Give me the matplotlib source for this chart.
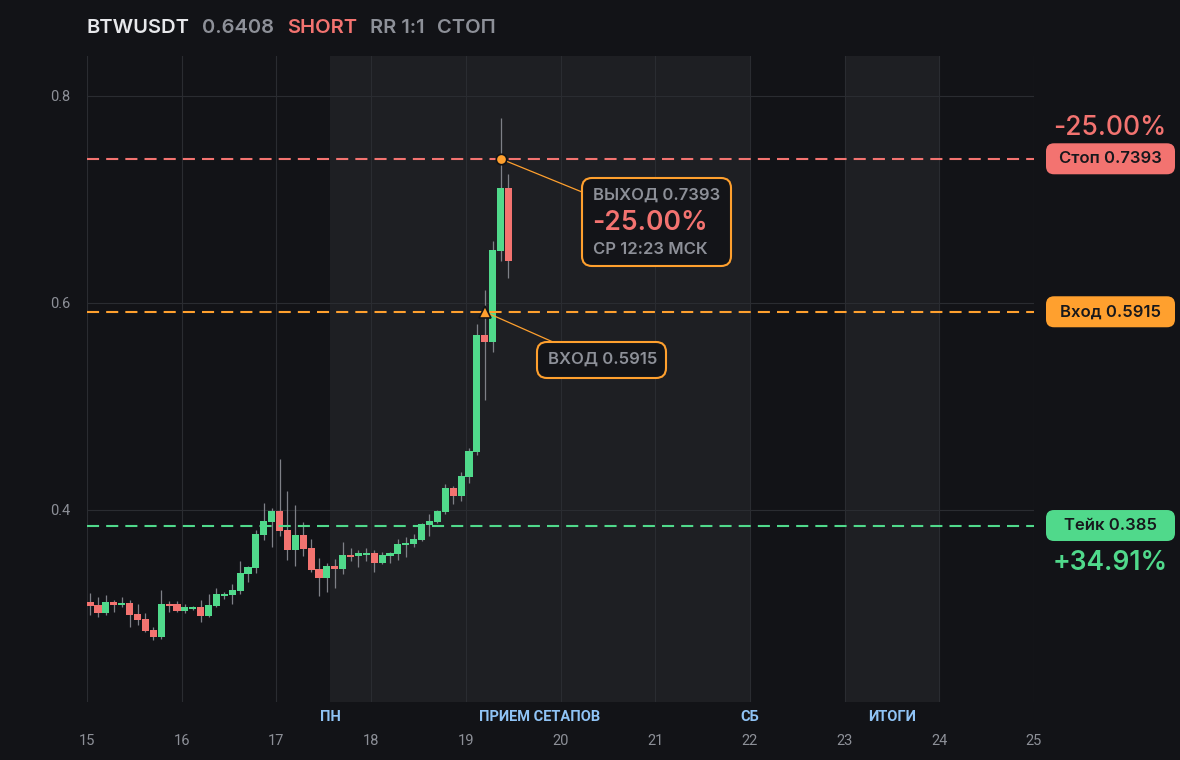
import numpy as np
import matplotlib
matplotlib.use('Agg')
import matplotlib.pyplot as plt
from matplotlib.patches import FancyBboxPatch
from matplotlib.transforms import Affine2D

#%% - Data
symbol = 'BTWUSDT'
last_price = 0.6408
side = 'SHORT'
rr_text = 'RR 1:1'
outcome = 'СТОП'

start_day = 15.0
candle_step = 1 / 12  # 2h candles

opens = [0.3111, 0.3082, 0.3005, 0.3111, 0.3082, 0.3101, 0.2995, 0.2947, 0.2841, 0.2773,
         0.3092, 0.3092, 0.3024, 0.3043, 0.3063, 0.2976, 0.3072, 0.3169, 0.3179, 0.3217,
         0.3382, 0.3440, 0.3758, 0.3884, 0.3990, 0.3807, 0.3614, 0.3758, 0.3633, 0.3430,
         0.3343, 0.3459, 0.3430, 0.3565, 0.3556, 0.3565, 0.3585, 0.3488, 0.3556, 0.3575,
         0.3662, 0.3671, 0.3710, 0.3855, 0.3884, 0.3981, 0.4213, 0.4135, 0.4319, 0.4560,
         0.5691, 0.5623, 0.6502, 0.7111]
highs = [0.3198, 0.3159, 0.3179, 0.3130, 0.3159, 0.3130, 0.3092, 0.3005, 0.2870, 0.3227,
         0.3121, 0.3121, 0.3092, 0.3072, 0.3130, 0.3188, 0.3246, 0.3208, 0.3285, 0.3507,
         0.3459, 0.3807, 0.4068, 0.4019, 0.4493, 0.4184, 0.4048, 0.3884, 0.3720, 0.3536,
         0.3488, 0.3527, 0.3691, 0.3633, 0.3614, 0.3633, 0.3614, 0.3594, 0.3594, 0.3720,
         0.3739, 0.3768, 0.3875, 0.3961, 0.4000, 0.4251, 0.4232, 0.4367, 0.4599, 0.5797,
         0.6126, 0.6599, 0.7787, 0.7246]
lows = [0.2986, 0.2966, 0.2986, 0.3014, 0.3063, 0.2870, 0.2889, 0.2821, 0.2744, 0.2754,
        0.3014, 0.3014, 0.3005, 0.3034, 0.2918, 0.2966, 0.3063, 0.3140, 0.3092, 0.3188,
        0.3304, 0.3391, 0.3710, 0.3643, 0.3749, 0.3517, 0.3459, 0.3556, 0.3401, 0.3169,
        0.3208, 0.3246, 0.3382, 0.3507, 0.3449, 0.3507, 0.3401, 0.3478, 0.3488, 0.3517,
        0.3546, 0.3643, 0.3700, 0.3749, 0.3874, 0.3961, 0.4058, 0.4087, 0.4261, 0.4531,
        0.5063, 0.5527, 0.6406, 0.6242]
closes = [0.3076, 0.3005, 0.3111, 0.3082, 0.3101, 0.2986, 0.2937, 0.2831, 0.2773, 0.3092,
          0.3072, 0.3024, 0.3063, 0.3063, 0.2976, 0.3082, 0.3188, 0.3188, 0.3227, 0.3391,
          0.3449, 0.3768, 0.3894, 0.3990, 0.3797, 0.3614, 0.3758, 0.3623, 0.3420, 0.3343,
          0.3459, 0.3430, 0.3565, 0.3546, 0.3585, 0.3585, 0.3488, 0.3565, 0.3585, 0.3671,
          0.3681, 0.3720, 0.3865, 0.3894, 0.3990, 0.4213, 0.4135, 0.4329, 0.4570, 0.5691,
          0.5623, 0.6512, 0.7111, 0.6408]

entry_price = 0.5915
stop_price = 0.7393
take_price = 0.385
stop_pct = -25.00   # as shown on the chart
take_pct = 34.91
entry_idx = 50   # candle with the entry marker
exit_idx = 52    # candle with the exit marker
exit_time_label = 'СР 12:23 МСК'

sessions = [(17.566, 22.0), (23.0, 24.0)]
session_labels = ['ПН', 'ПРИЕМ СЕТАПОВ', 'СБ', 'ИТОГИ']
day_ticks = list(range(15, 26))
price_ticks = [0.4, 0.6, 0.8]

#%% - Style
W, H = 1180, 760
bg = '#121317'
shade = '#1e1f23'
grid_c = '#2a2c31'
green = '#50d98b'
red = '#f37370'
orange = '#ffa02e'
grey = '#8d9098'
wick_c = '#7e8087'
blue = '#8fc3f5'
dark_txt = '#17181c'

plt.rcParams['font.family'] = ['Inter', 'DejaVu Sans']

fig = plt.figure(figsize=(W / 100, H / 100), dpi=100, facecolor=bg)
ax = fig.add_axes([87 / W, (H - 702) / H, (1034 - 87) / W, (702 - 56) / H])
ax.set_facecolor(bg)
ax.set_xlim(15, 25)
ax.set_ylim(0.2145, 0.8386)
for s in ax.spines.values():
    s.set_visible(False)

# sessions shading
for a, b in sessions:
    ax.axvspan(a, b, color=shade, lw=0, zorder=0)

ax.set_xticks(day_ticks)
ax.set_yticks(price_ticks)
ax.set_yticklabels([f'{v:.1f}' for v in price_ticks])
ax.grid(color=grid_c, lw=0.8, zorder=1)
ax.set_axisbelow(True)
ax.tick_params(axis='both', length=0, colors=grey, labelsize=10.5)
ax.tick_params(axis='x', pad=23)
ax.tick_params(axis='y', pad=12)
for lab in ax.get_xticklabels() + ax.get_yticklabels():
    lab.set_family(['Roboto', 'DejaVu Sans'])

# session labels under the plot
label_pos = [sessions[0][0], np.mean(sessions[0]), sessions[0][1], np.mean(sessions[1])]
for xp, lab in zip(label_pos, session_labels):
    ax.text(xp, -0.023, lab, transform=ax.get_xaxis_transform(), ha='center', va='center',
            color=blue, fontsize=10.5, fontweight='semibold', family=['Roboto', 'DejaVu Sans'])

#%% - Candles
o = np.array(opens)
h = np.array(highs)
l = np.array(lows)
c = np.array(closes)
t = start_day + (np.arange(len(o)) + 0.4) * candle_step
up = c >= o
body_lo = np.minimum(o, c)
body_h = np.maximum(np.abs(c - o), 0.0019)

ax.vlines(t, l, h, color=wick_c, lw=0.9, zorder=2)
ax.bar(t, body_h, bottom=body_lo, width=candle_step * 0.9,
       color=np.where(up, green, red), lw=0, zorder=3)

# levels
dash = (5.8, 3.4)
ax.axhline(stop_price, color=red, lw=1.5, dashes=dash, zorder=4)
ax.axhline(entry_price, color=orange, lw=1.5, dashes=dash, zorder=4)
ax.axhline(take_price, color=green, lw=1.5, dashes=dash, zorder=4)

# entry / exit markers
ax.plot(t[exit_idx], stop_price, 'o', ms=7.5, mfc=orange, mec=bg, mew=1.2, zorder=7)
ax.plot(t[entry_idx], entry_price, '^', ms=9, mfc=orange, mec=bg, mew=1.2, zorder=7)

#%% - Boxes and labels (figure pixels, y from bottom)
px = Affine2D().scale(1 / W, 1 / H) + fig.transFigure


def rbox(x0, y0, w, hgt, face, edge=None, lw=0.0, r=8):
    p = FancyBboxPatch((x0, y0), w, hgt, boxstyle=f'round,pad=0,rounding_size={r}',
                       transform=px, facecolor=face, edgecolor=edge or face, linewidth=lw,
                       zorder=6, clip_on=False)
    fig.add_artist(p)


def ftext(x, y, s, **kw):
    fig.text(x, y, s, transform=px, **kw)


# exit annotation
rbox(582, H - 266, 149, 88, '#131418', orange, 1.5, r=10)
ftext(593, H - 195, f'ВЫХОД {stop_price:.4f}', color=grey, fontsize=12, fontweight='semibold', va='center', zorder=8)
ftext(592, H - 223, f'{stop_pct:.2f}%', color=red, fontsize=19, fontweight='semibold', va='center', zorder=8)
ftext(593, H - 249, exit_time_label, color=grey, fontsize=12, fontweight='semibold', va='center', zorder=8)
ax.annotate('', xy=(t[exit_idx], stop_price), xytext=(582, H - 192), textcoords=px,
            arrowprops=dict(arrowstyle='-', color=orange, lw=0.9, shrinkA=0, shrinkB=0), zorder=5)

# entry annotation
rbox(537, H - 378, 129, 36, '#131418', orange, 1.5, r=10)
ftext(548, H - 359, f'ВХОД {entry_price:.4f}', color=grey, fontsize=12, fontweight='semibold', va='center', zorder=8)
ax.annotate('', xy=(t[entry_idx], entry_price), xytext=(553, H - 342), textcoords=px,
            arrowprops=dict(arrowstyle='-', color=orange, lw=0.9, shrinkA=0, shrinkB=0), zorder=5)

# right side badges
badges = [(stop_price, f'Стоп {stop_price:.4f}', red),
          (entry_price, f'Вход {entry_price:.4f}', orange),
          (take_price, f'Тейк {take_price:g}', green)]
for val, lab, col in badges:
    yc = ax.transData.transform((15, val))[1]
    rbox(1046, yc - 15.5, 129, 31, col, r=8)
    ftext(1110.5, yc, lab, color=dark_txt, fontsize=12, fontweight='semibold', ha='center', va='center', zorder=8)

y_stop = ax.transData.transform((15, stop_price))[1]
y_take = ax.transData.transform((15, take_price))[1]
ftext(1110, y_stop + 31, f'{stop_pct:.2f}%', color=red, fontsize=19, fontweight='medium', ha='center', va='center')
ftext(1110, y_take - 37, f'+{take_pct:.2f}%', color=green, fontsize=19, fontweight='semibold', ha='center', va='center')

#%% - Header
ty = H - 28
ftext(87, ty, symbol, color='#e7e8eb', fontsize=14.5, fontweight='semibold', va='center')
ftext(202, ty, f'{last_price:.4f}', color=grey, fontsize=14.5, fontweight='semibold', va='center')
ftext(287, ty, side, color=red, fontsize=14.5, fontweight='semibold', va='center')
ftext(370, ty, rr_text, color=grey, fontsize=14.5, fontweight='semibold', va='center')
ftext(437, ty, outcome, color=grey, fontsize=14.5, fontweight='semibold', va='center')

fig.savefig('out.png', dpi=100, facecolor=bg)
